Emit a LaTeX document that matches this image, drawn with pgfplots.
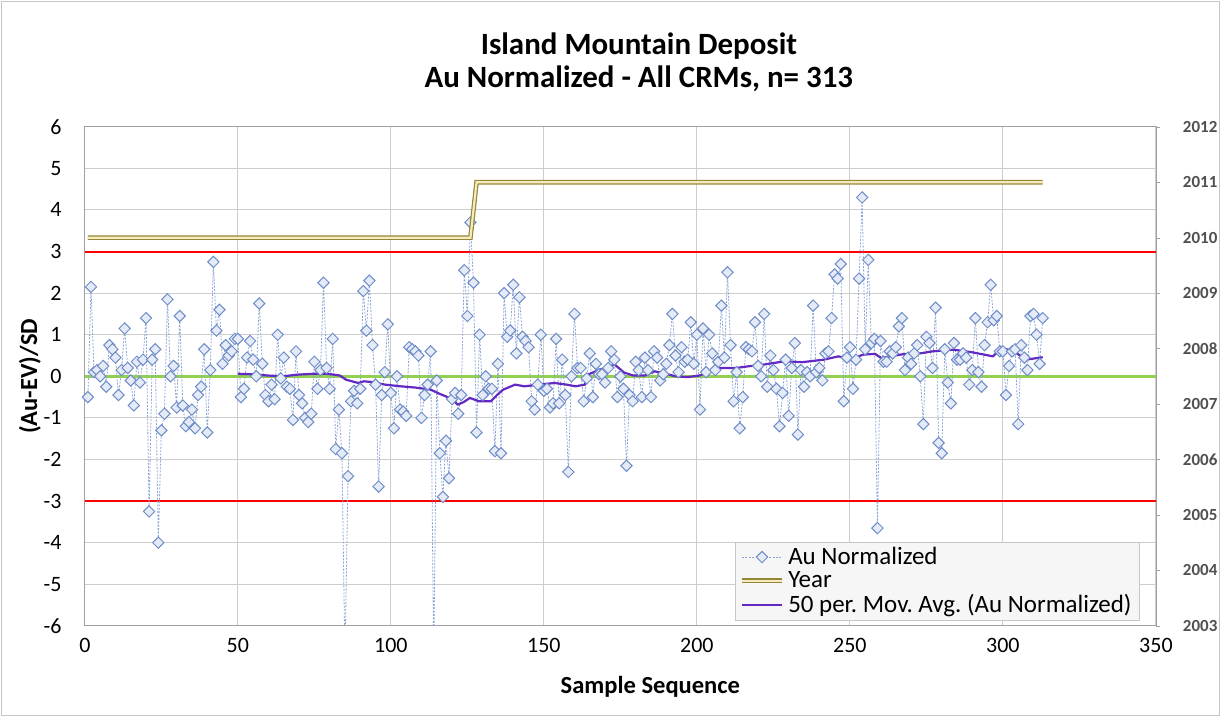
\documentclass[border=0pt]{standalone}
\usepackage{pgfplots}
\pgfplotsset{compat=1.18}
\usepackage{fontspec}
\setmainfont{Carlito}
\frenchspacing

\definecolor{aublue}{RGB}{110,140,200}
\definecolor{aufill}{RGB}{228,234,246}
\definecolor{aulink}{RGB}{140,165,215}
\definecolor{yrout}{RGB}{150,135,55}
\definecolor{yrin}{RGB}{245,236,190}
\definecolor{mavg}{RGB}{100,40,195}
\definecolor{okgreen}{RGB}{146,208,80}
\definecolor{gridg}{RGB}{205,205,205}
\definecolor{axg}{RGB}{160,160,160}
\definecolor{rlab}{RGB}{80,80,80}

\pgfplotsset{
  austyle/.style={aulink, line width=0.4pt, dash pattern=on 1pt off 0.7pt,
    mark=square*, mark size=2pt,
    mark options={solid, rotate=45, draw=aublue, fill=aufill, line width=0.5pt}},
  yrstyle/.style={draw=yrout, double=yrin, double distance=1.1pt, line width=0.6pt, no marks},
  mastyle/.style={mavg, line width=1.1pt, no marks},
}

\begin{document}
\begin{tikzpicture}
\begin{axis}[
  name=main,
  scale only axis,
  width=536.5pt, height=250pt,
  xmin=0, xmax=350, ymin=-6, ymax=6,
  xtick={0,50,...,350},
  ytick={-6,-5,...,6},
  grid=major,
  grid style={gridg, line width=0.5pt},
  axis line style={axg},
  major tick length=0pt,
  /pgf/number format/assume math mode=true,
  xticklabel style={font=\fontsize{11}{13}\selectfont, anchor=center, yshift=-10pt},
  yticklabel style={font=\fontsize{11}{13}\selectfont, anchor=east, inner xsep=0pt, xshift=-11.5pt},
  xlabel={Sample Sequence},
  ylabel={(Au-EV)/SD},
  xlabel style={font=\bfseries\fontsize{12.3}{14}\selectfont, at={(axis description cs:0.528,-0.122)}, anchor=center},
  ylabel style={font=\bfseries\fontsize{12.3}{14}\selectfont, at={(axis description cs:-0.0513,0.5)}, anchor=center},
  clip=true,
]
% control limits and zero line
\addplot[red, line width=1pt] coordinates {(0,3) (350,3)};
\addplot[red, line width=1pt] coordinates {(0,-3) (350,-3)};
\addplot[okgreen, line width=1.8pt] coordinates {(0,0) (350,0)};

% Au normalized, 313 samples
\addplot[austyle] coordinates {
(1,-0.5)(2,2.15)(3,0.1)(4,0.15)(5,0.0)(6,0.25)(7,-0.25)(8,0.75)(9,0.65)(10,0.45)
(11,-0.45)(12,0.15)(13,1.15)(14,0.2)(15,-0.1)(16,-0.7)(17,0.35)(18,-0.15)(19,0.4)(20,1.4)
(21,-3.25)(22,0.4)(23,0.65)(24,-4.0)(25,-1.3)(26,-0.9)(27,1.85)(28,0.0)(29,0.25)(30,-0.75)
(31,1.45)(32,-0.7)(33,-1.2)(34,-1.1)(35,-0.8)(36,-1.25)(37,-0.45)(38,-0.25)(39,0.65)(40,-1.35)
(41,0.15)(42,2.75)(43,1.1)(44,1.6)(45,0.3)(46,0.75)(47,0.5)(48,0.6)(49,0.9)(50,0.9)
(51,-0.5)(52,-0.3)(53,0.45)(54,0.85)(55,0.4)(56,0.0)(57,1.75)(58,0.3)(59,-0.45)(60,-0.6)
(61,-0.2)(62,-0.55)(63,1.0)(64,-0.05)(65,0.45)(66,-0.25)(67,-0.3)(68,-1.05)(69,0.6)(70,-0.45)
(71,-0.65)(72,-1.0)(73,-1.1)(74,-0.9)(75,0.35)(76,-0.3)(77,0.15)(78,2.25)(79,0.2)(80,-0.3)
(81,0.9)(82,-1.75)(83,-0.8)(84,-1.85)(85,-6.8)(86,-2.4)(87,-0.6)(88,-0.35)(89,-0.65)(90,-0.3)
(91,2.05)(92,1.1)(93,2.3)(94,0.75)(95,-0.2)(96,-2.65)(97,-0.45)(98,0.1)(99,1.25)(100,-0.4)
(101,-1.25)(102,0.0)(103,-0.8)(104,-0.85)(105,-0.95)(106,0.7)(107,0.65)(108,0.6)(109,0.5)(110,-1.0)
(111,-0.45)(112,-0.2)(113,0.6)(114,-6.8)(115,-0.1)(116,-1.85)(117,-2.9)(118,-1.55)(119,-2.45)(120,-0.55)
(121,-0.4)(122,-0.9)(123,-0.45)(124,2.55)(125,1.45)(126,3.7)(127,2.25)(128,-1.35)(129,1.0)(130,-0.45)
(131,0.0)(132,-0.3)(133,-0.3)(134,-1.8)(135,0.3)(136,-1.85)(137,2.0)(138,0.95)(139,1.1)(140,2.2)
(141,0.55)(142,1.9)(143,0.95)(144,0.85)(145,0.7)(146,-0.6)(147,-0.8)(148,-0.2)(149,1.0)(150,-0.35)
(151,-0.3)(152,-0.75)(153,-0.65)(154,0.9)(155,-0.65)(156,0.4)(157,-0.45)(158,-2.3)(159,0.0)(160,1.5)
(161,0.2)(162,0.2)(163,-0.6)(164,-0.05)(165,0.55)(166,-0.5)(167,0.3)(168,0.05)(169,0.05)(170,-0.15)
(171,0.2)(172,0.6)(173,0.4)(174,-0.5)(175,0.0)(176,-0.3)(177,-2.15)(178,-0.45)(179,-0.6)(180,0.35)
(181,0.15)(182,-0.5)(183,0.45)(184,0.15)(185,-0.5)(186,0.6)(187,0.45)(188,-0.1)(189,0.05)(190,0.3)
(191,0.75)(192,1.5)(193,0.5)(194,0.1)(195,0.7)(196,0.35)(197,0.4)(198,1.3)(199,0.3)(200,1.0)
(201,-0.8)(202,1.15)(203,0.1)(204,1.0)(205,0.55)(206,0.15)(207,0.35)(208,1.7)(209,0.45)(210,2.5)
(211,0.75)(212,-0.6)(213,0.1)(214,-1.25)(215,-0.5)(216,0.7)(217,0.65)(218,0.6)(219,1.3)(220,0.25)
(221,0.0)(222,1.5)(223,-0.25)(224,0.5)(225,0.15)(226,-0.3)(227,-1.2)(228,-0.4)(229,0.4)(230,-0.95)
(231,0.2)(232,0.8)(233,-1.4)(234,0.15)(235,-0.25)(236,0.1)(237,0.0)(238,1.7)(239,0.1)(240,0.2)
(241,-0.1)(242,0.55)(243,0.6)(244,1.4)(245,2.45)(246,2.35)(247,2.7)(248,-0.6)(249,0.45)(250,0.7)
(251,-0.3)(252,0.4)(253,2.35)(254,4.3)(255,0.65)(256,2.8)(257,0.8)(258,0.9)(259,-3.65)(260,0.85)
(261,0.35)(262,0.35)(263,0.6)(264,0.55)(265,0.7)(266,1.2)(267,1.4)(268,0.15)(269,0.45)(270,0.3)
(271,0.55)(272,0.75)(273,0.0)(274,-1.15)(275,0.95)(276,0.8)(277,0.2)(278,1.65)(279,-1.6)(280,-1.85)
(281,0.65)(282,-0.15)(283,-0.65)(284,0.8)(285,0.4)(286,0.4)(287,0.55)(288,0.45)(289,-0.2)(290,0.15)
(291,1.4)(292,0.1)(293,-0.25)(294,0.75)(295,1.3)(296,2.2)(297,1.35)(298,1.45)(299,0.6)(300,0.6)
(301,-0.45)(302,0.25)(303,0.6)(304,0.65)(305,-1.15)(306,0.75)(307,0.45)(308,0.15)(309,1.45)(310,1.5)
(311,1.0)(312,0.3)(313,1.4)
};

% 50 per. moving average
\addplot[mastyle] coordinates {
(50,0.06)(54.7,0.05)(59.6,0.02)(64.6,0.0)(69.5,0.04)(74.4,0.06)(79.4,0.06)(83.3,0.02)
(85.3,-0.08)(87.3,-0.12)(89.3,-0.16)(91.2,-0.12)(94.2,-0.14)(98.1,-0.2)(103.1,-0.24)
(108,-0.27)(113,-0.32)(115.9,-0.42)(117.9,-0.48)(119.9,-0.56)(121.9,-0.68)(123.8,-0.62)
(125.8,-0.52)(128.8,-0.6)(132.7,-0.6)(134.7,-0.45)(136.7,-0.32)(140.6,-0.2)(143.6,-0.24)
(148.5,-0.2)(153.5,-0.16)(157.4,-0.2)(160.4,-0.24)(163.4,-0.2)(164.3,0.04)(168.3,0.16)
(173.2,0.28)(176.2,0.09)(179.2,0.02)(183.1,0.02)(186.1,0.12)(189,0.08)(193,0.0)(196.9,-0.02)
(200.9,0.02)(203.8,0.1)(207.8,0.2)(212.8,0.2)(216.7,0.24)(221.6,0.28)(228.6,0.36)(234.5,0.34)
(241.4,0.4)(246.3,0.48)(250.3,0.4)(254.2,0.52)(258.2,0.54)(260.2,0.44)(263.1,0.48)(268.1,0.54)
(272,0.54)(277,0.6)(283.9,0.64)(289.8,0.58)(296.7,0.48)(299.7,0.68)(303.6,0.6)(307.6,0.4)(313,0.46)
};
\end{axis}

\begin{axis}[
  at={(main.south west)}, anchor=south west,
  scale only axis,
  width=536.5pt, height=250pt,
  xmin=0, xmax=350, ymin=2003, ymax=2012,
  axis x line=none,
  axis y line*=right,
  axis line style={axg},
  ytick={2003,...,2012},
  tick align=outside,
  major tick length=2pt,
  tick style={axg},
  /pgf/number format/1000 sep={},
  /pgf/number format/assume math mode=true,
  yticklabel style={font=\bfseries\fontsize{8.5}{10}\selectfont, text=rlab, anchor=west, xshift=8pt},
  legend image code/.code={\draw[mark repeat=2, mark phase=2, #1] plot coordinates {(0pt,0pt) (10pt,0pt) (20pt,0pt)};},
  legend style={at={(0.985,0.01)}, anchor=south east, fill=gray!7, draw=gray!45,
    font=\fontsize{12.5}{13.5}\selectfont, inner xsep=2pt, inner ysep=0.5pt, row sep=-2pt},
  legend cell align=left,
]
\addlegendimage{austyle}
\addlegendentry{Au Normalized}
\addplot[yrstyle] coordinates {(1,2010) (126,2010) (128,2011) (313,2011)};
\addlegendentry{Year}
\addlegendimage{mastyle}
\addlegendentry{50 per. Mov. Avg. (Au Normalized)}
\end{axis}

\path[draw=gray!45, line width=0.5pt] ([shift={(-41.5pt,-45pt)}]main.south west) rectangle ([shift={(32pt,62.5pt)}]main.north east);
\path ([shift={(-42.5pt,-46pt)}]main.south west) rectangle ([shift={(33pt,63.5pt)}]main.north east);
\node[font=\bfseries\fontsize{15.5}{16.5}\selectfont, align=center, anchor=center]
  at ([xshift=277.5pt, yshift=32.5pt]main.north west) {Island Mountain Deposit\\Au Normalized - All CRMs, n= 313};
\end{tikzpicture}
\end{document}
